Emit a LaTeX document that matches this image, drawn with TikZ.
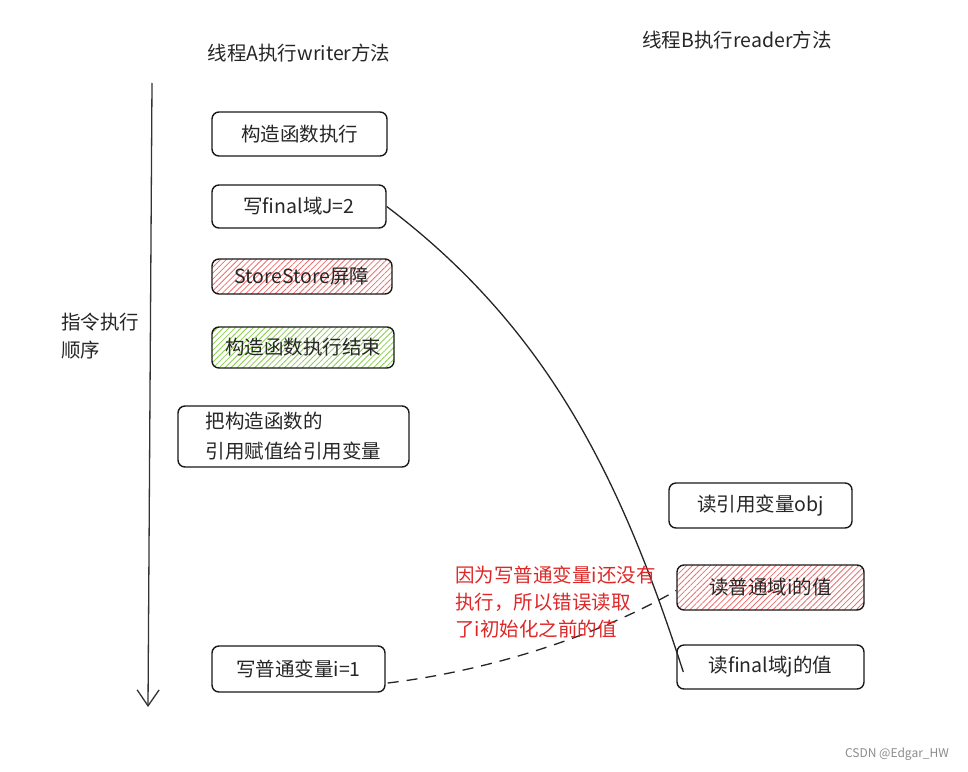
\documentclass[tikz,border=0pt]{standalone}
\usepackage{fontspec}
\setmainfont{Noto Sans CJK SC}
\usetikzlibrary{arrows.meta,patterns.meta}
\definecolor{hatchred}{RGB}{236,110,110}
\definecolor{hatchgreen}{RGB}{140,205,80}
\definecolor{notered}{RGB}{222,40,40}
\tikzset{
  box/.style={draw=black!90, line width=1.4pt, rounded corners=7pt, inner sep=0pt,
    text=black!85, font=\fontsize{19.5}{30}\selectfont, align=center},
  redhatch/.style={pattern={Lines[angle=45,distance=4.2pt,line width=0.8pt]}, pattern color=hatchred},
  greenhatch/.style={pattern={Lines[angle=45,distance=4.2pt,line width=0.8pt]}, pattern color=hatchgreen},
  plain/.style={inner sep=0pt, text=black!85, font=\fontsize{19.5}{28}\selectfont, align=left},
}
\begin{document}
\begin{tikzpicture}[x=1pt,y=-1pt]
\useasboundingbox[fill=white] (0,0) rectangle (968,771);

% titles
\node[plain] (ta) at (299,53) {线程A执行writer方法};
\node[plain] (tb) at (737,40) {线程B执行reader方法};
\node[plain, anchor=west] (ord) at (61,336) {指令执行\\顺序};

% time arrow
\coordinate (atop) at (152,83);
\coordinate (abot) at (148,707);
\draw[line width=1.3pt, black!80, -{Straight Barb[length=16pt,width=22pt,line width=1.3pt]}] (atop) -- (abot);

% left boxes
\node[box, minimum width=175pt, minimum height=44pt] (b1) at (299.5,134) {构造函数执行};
\node[box, minimum width=174pt, minimum height=43pt] (b2) at (299,206.5) {写final域J=2};
\node[box, redhatch, minimum width=180pt, minimum height=35pt] (b3) at (302,276.5) {StoreStore屏障};
\node[box, greenhatch, minimum width=182pt, minimum height=41pt] (b4) at (303,347.5) {构造函数执行结束};
\node[box, minimum width=231pt, minimum height=61pt, align=left] (b5) at (293.5,436.5) {把构造函数的\\引用赋值给引用变量};
\node[box, minimum width=173pt, minimum height=46pt] (b6) at (298.5,669) {写普通变量i=1};

% right boxes
\node[box, minimum width=183pt, minimum height=45pt] (b7) at (760.5,505.5) {读引用变量obj};
\node[box, redhatch, minimum width=187pt, minimum height=45pt] (b8) at (770.5,587.5) {读普通域i的值};
\node[box, minimum width=187pt, minimum height=44pt] (b9) at (770.5,667) {读final域j的值};

% connectors
\draw[line width=1.3pt, black!85] (b2.east) .. controls (550,330) and (622,482) .. ([xshift=7pt,yshift=-5pt]b9.west);
\draw[line width=1.3pt, black!85, dash pattern=on 11pt off 8pt] ([xshift=2pt,yshift=-14pt]b6.east) .. controls (480,672) and (590,640) .. ([yshift=-3pt]b8.west);

% note
\node[plain, anchor=north west, text=notered, font=\fontsize{19.5}{27}\selectfont] (note) at (455,566) {因为写普通变量i还没有\\执行，所以错误读取\\了i初始化之前的值};

% watermark
\node[inner sep=0pt, text=black!45, font=\fontsize{12}{14}\selectfont] (wm) at (897,754) {CSDN @Edgar\_HW};
\end{tikzpicture}
\end{document}
